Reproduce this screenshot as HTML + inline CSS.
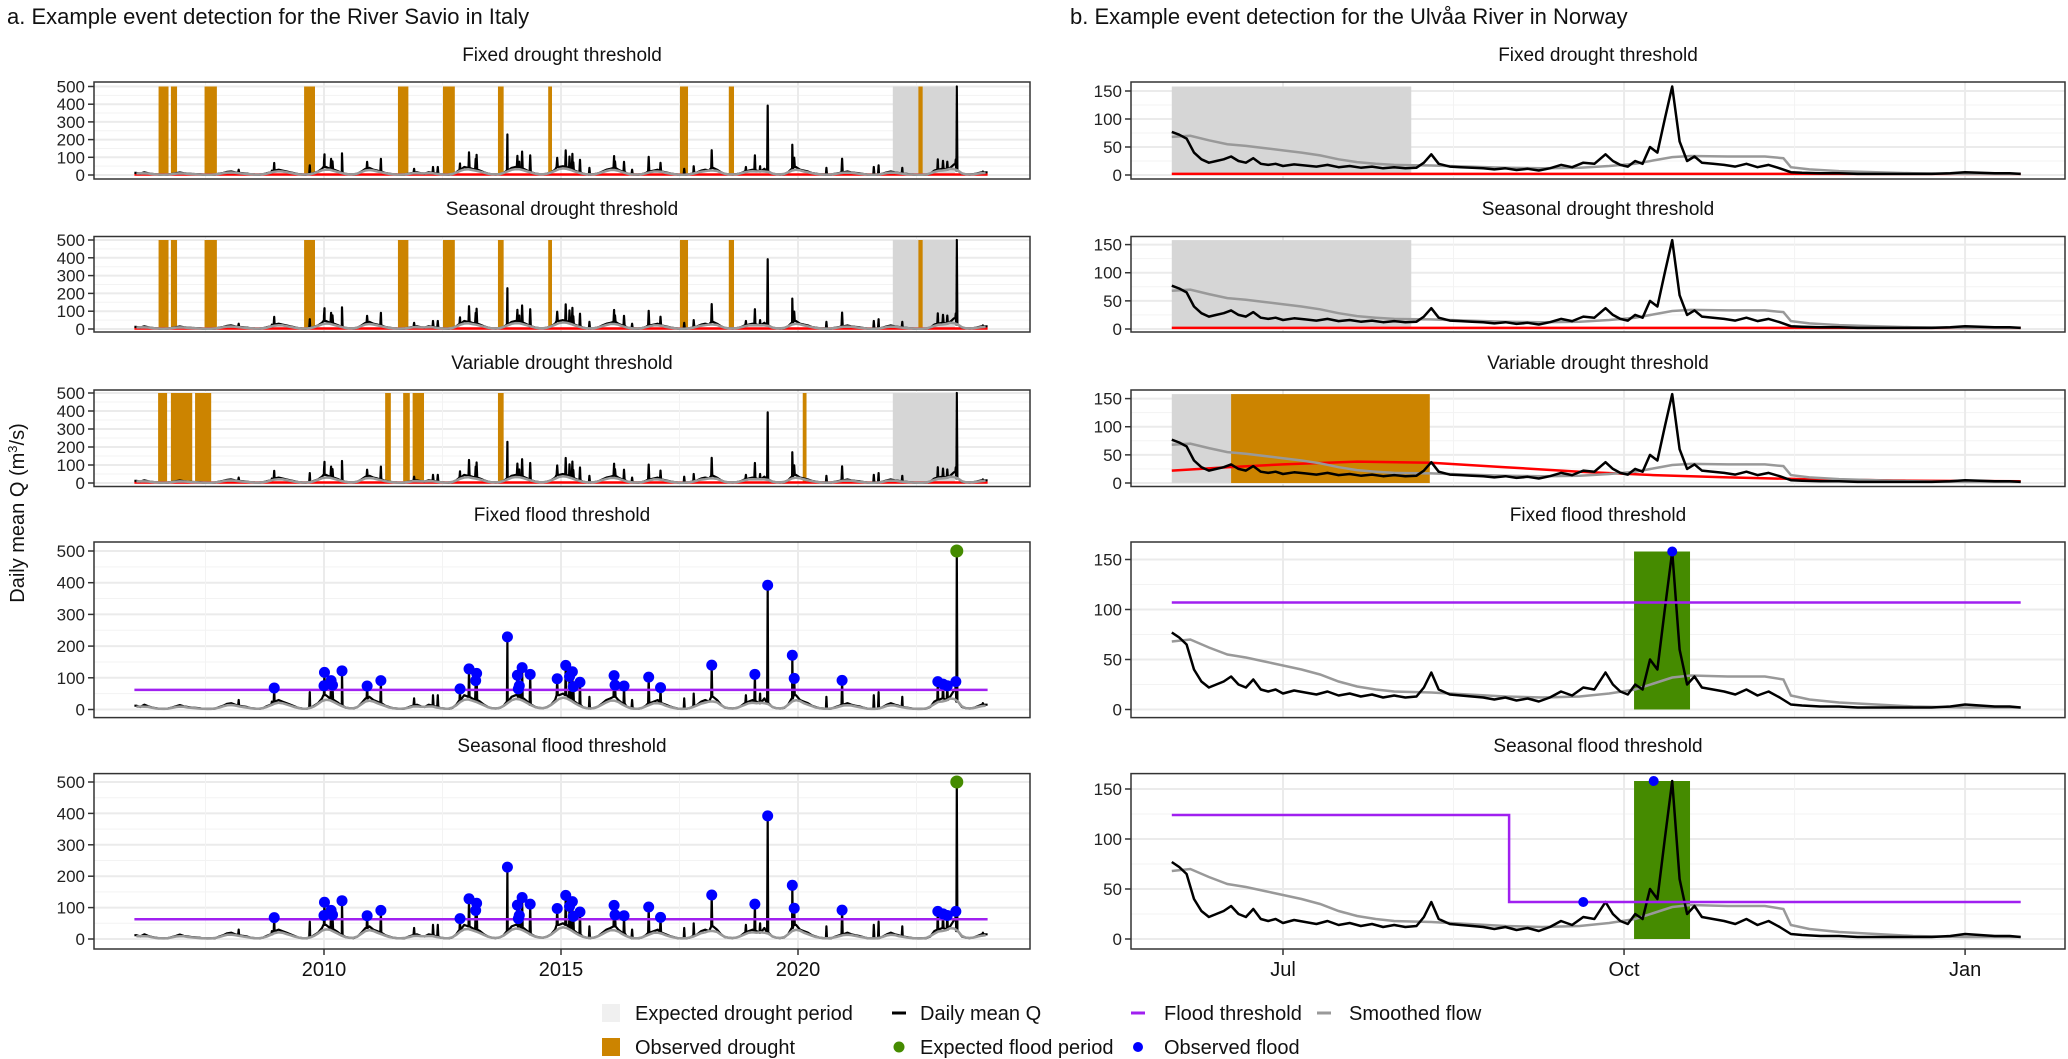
<!DOCTYPE html>
<html><head><meta charset="utf-8"><style>
body{margin:0;background:#fff;}
svg{display:block;}
.tk{font-family:"Liberation Sans",sans-serif;font-size:17px;fill:#222;}
.ttl{font-family:"Liberation Sans",sans-serif;font-size:19px;fill:#111;}
.main{font-family:"Liberation Sans",sans-serif;font-size:22px;fill:#111;}
.nar{font-family:"Liberation Sans Narrow","Liberation Sans",sans-serif;font-size:20px;fill:#111;}
</style></head><body>
<svg id="c" width="2068" height="1059" viewBox="0 0 2068 1059" xmlns="http://www.w3.org/2000/svg">
<text class="main" x="7" y="24">a. Example event detection for the River Savio in Italy</text>
<text class="main" x="1070" y="24">b. Example event detection for the Ulvåa River in Norway</text>
<text class="nar" transform="translate(24,513) rotate(-90)" text-anchor="middle">Daily mean Q (m<tspan dy="-7" font-size="13">3</tspan><tspan dy="7">/s)</tspan></text>
<g id="plots"></g>
<g id="legend">
<rect x="602" y="1004" width="18" height="18" fill="#f0f0f0"/>
<text class="nar" x="635" y="1020">Expected drought period</text>
<rect x="602" y="1038" width="18" height="18" fill="#cc8400"/>
<text class="nar" x="635" y="1054">Observed drought</text>
<line x1="892" y1="1013" x2="906" y2="1013" stroke="#000" stroke-width="3"/>
<text class="nar" x="920" y="1020">Daily mean Q</text>
<circle cx="899" cy="1047" r="5.5" fill="#458b00"/>
<text class="nar" x="920" y="1054">Expected flood period</text>
<line x1="1131" y1="1013" x2="1145" y2="1013" stroke="#a020f0" stroke-width="3"/>
<text class="nar" x="1164" y="1020">Flood threshold</text>
<circle cx="1138" cy="1047" r="5" fill="#0000ff"/>
<text class="nar" x="1164" y="1054">Observed flood</text>
<line x1="1317" y1="1013" x2="1331" y2="1013" stroke="#999" stroke-width="3"/>
<text class="nar" x="1349" y="1020">Smoothed flow</text>
</g>
</svg>
<script>
// ---- Left (Savio) data ----
const savioBase = [
12,8,15,10,6,4,2,2,3,6,10,14,
10,8,6,5,4,2,2,2,3,8,12,18,
20,15,12,10,8,4,3,2,4,10,15,25,
30,25,20,15,10,5,3,2,5,12,20,35,
45,35,30,22,12,6,4,3,8,20,35,40,
30,25,20,12,8,4,3,2,3,8,12,15,
10,8,15,12,8,4,3,2,5,15,30,45,
40,35,30,25,15,8,4,3,5,12,25,40,
45,40,35,25,15,8,5,4,8,15,30,45,
50,45,35,25,15,8,4,3,5,10,20,30,
35,40,30,20,10,5,3,2,5,12,20,25,
30,20,15,10,6,3,2,2,4,10,15,25,
30,25,40,30,15,6,4,3,5,10,20,25,
30,25,20,35,20,8,4,3,5,15,35,45,
30,25,20,12,8,4,3,2,3,8,12,15,
20,15,12,10,6,3,2,2,3,8,15,20,
15,12,8,6,4,2,2,2,3,8,25,30,
35,30,40,60,25,8,4,3,5,10,15,15];
const floodYears = [2008.95,2010.0,2010.01,2010.15,2010.18,2010.38,2010.91,2011.2,2012.87,2013.06,2013.2,2013.22,2013.87,2014.08,2014.1,2014.12,2014.18,2014.35,2014.92,2015.1,2015.18,2015.24,2015.26,2015.4,2016.12,2016.14,2016.33,2016.85,2017.1,2018.18,2019.09,2019.36,2019.88,2019.92,2020.93,2022.95,2023.06,2023.15,2023.33];
const floodPeaks = [68,75,117,91,77,122,74,91,65,128,91,114,229,108,65,75,132,111,97,139,104,119,72,86,107,77,74,102,69,140,111,392,171,98,92,88,80,75,88];
const minorYears = [2008.2,2008.9,2009.7,2011.9,2012.3,2012.4,2015.6,2016.5,2017.6,2017.8,2018.9,2019.2,2020.6,2021.6,2021.7,2022.2,2023.9];
const minorPeaks = [30,25,55,35,45,45,40,30,35,50,45,50,40,45,55,40,20];
const expectedFloodYear = [2023.35];
const expectedFloodPeak = [500];
const fixedDroughtStart = [2006.51,2006.77,2007.48,2009.58,2011.56,2012.51,2013.67,2014.73,2017.51,2018.54,2022.54];
const fixedDroughtEnd   = [2006.72,2006.90,2007.74,2009.81,2011.78,2012.76,2013.79,2014.81,2017.68,2018.65,2022.63];
const varDroughtStart = [2006.5,2006.77,2007.28,2011.29,2011.67,2011.87,2013.67,2020.1];
const varDroughtEnd   = [2006.69,2007.22,2007.62,2011.41,2011.81,2012.11,2013.79,2020.18];
const expDroughtL = [2022.0,2023.31];
const leftFloodThreshold = [62,63];
const leftYearTicks = [2010,2015,2020];
// ---- Right (Ulvaa) data: day index from 1 June ----
const ulvDays = [0,2,4,6,8,10,12,14,16,18,20,22,24,26,28,30,33,36,39,42,45,48,51,54,57,60,63,66,68,70,72,75,78,81,84,87,90,93,96,99,102,105,108,111,114,117,119,121,123,125,127,129,131,133,135,137,139,141,143,146,149,152,155,158,161,164,167,170,175,180,185,190,195,200,205,210,214,218,222,226,229];
const ulvFlow = [77,72,65,40,28,22,25,28,33,25,22,30,20,18,20,16,19,17,15,18,14,16,13,15,12,14,12,13,22,37,20,15,14,13,12,10,12,9,11,8,12,18,14,22,20,37,25,18,15,25,20,50,40,100,158,60,25,33,22,20,18,15,20,14,18,12,5,4,3,3,2,2,2,2,2,3,5,4,3,3,2];
const smDays = [0,5,10,15,20,25,30,35,40,45,50,55,60,70,80,90,100,110,118,125,130,135,140,150,160,165,167,172,180,190,200,214,229];
const smFlow = [68,70,62,55,52,48,44,40,35,28,23,20,18,17,15,13,12,13,16,20,26,32,34,33,33,30,14,10,7,5,3,2,2];
const varThrDays = [0,15,30,50,70,90,110,130,150,170,200,229];
const varThrVal = [22,28,33,38,36,28,20,14,10,7,4,3];
const fixedDroughtThrR = [2];
const expDroughtR = [0,64.6];
const obsDroughtR = [16,69.6];
const expFloodR = [124.7,139.8];
const fixedFloodThrR = [107];
const seasFloodDays = [0,91,91,229];
const seasFloodVal = [124,124,37,37];
const obsFloodRowFixDay = [135], obsFloodRowFixVal = [158];
const obsFloodRowSeasDay = [111,130], obsFloodRowSeasVal = [37,158];
const rightTickDays = [30,122,214];
const rightTickLabels = ["Jul","Oct","Jan"];

const NS="http://www.w3.org/2000/svg";
const root=document.getElementById('plots');
function mk(tag,attrs,parent){const e=document.createElementNS(NS,tag);for(const k in attrs)e.setAttribute(k,attrs[k]);(parent||root).appendChild(e);return e;}

const rows=[
 {top:82,bot:179,zL:175,kL:88.5/500,zR:175,kR:84/150,title:"Fixed drought threshold",ty:61},
 {top:236.5,bot:332,zL:329,kL:89/500,zR:329,kR:84.4/150,title:"Seasonal drought threshold",ty:215},
 {top:390,bot:486.5,zL:483,kL:90/500,zR:483,kR:84.4/150,title:"Variable drought threshold",ty:369},
 {top:542,bot:717.6,zL:709.5,kL:158.5/500,zR:709.5,kR:150/150,title:"Fixed flood threshold",ty:521},
 {top:773.6,bot:949,zL:939,kL:157/500,zR:939,kR:150/150,title:"Seasonal flood threshold",ty:752}];
const LX0=94,LX1=1030,RX0=1131,RX1=2065;
const xL=y=>324+(y-2010)*47.4;
const xR=d=>1283+(d-30)*3.707;

// build left black series
function leftSeries(){
  const pts=[];
  const baseAt=t=>{const i=Math.min(savioBase.length-1,Math.max(0,Math.floor((t-2006)*12)));return savioBase[i];};
  savioBase.forEach((v,i)=>pts.push([2006+(i+0.5)/12,v]));
  pts.unshift([2006.0,savioBase[0]]);pts.push([2024.0,savioBase[savioBase.length-1]]);
  const sp=[];
  floodYears.forEach((t,i)=>sp.push([t,floodPeaks[i]]));
  minorYears.forEach((t,i)=>sp.push([t,minorPeaks[i]]));
  expectedFloodYear.forEach((t,i)=>sp.push([t,expectedFloodPeak[i]]));
  sp.forEach(([t,v])=>{const b=baseAt(t);pts.push([t-0.012,b]);pts.push([t,v]);pts.push([t+0.012,b]);});
  pts.sort((a,b)=>a[0]-b[0]);
  return pts;
}
const leftPts=leftSeries();
const leftSmooth=savioBase.map((v,i)=>{const a=savioBase[Math.max(0,i-1)],c=savioBase[Math.min(savioBase.length-1,i+1)];return [2006+(i+0.5)/12,(a+v+c)/3*0.8];});

function poly(pts,xf,yf){return pts.map(p=>xf(p[0]).toFixed(1)+","+yf(p[1]).toFixed(1)).join(" ");}

rows.forEach((r,ri)=>{
 ['L','R'].forEach(side=>{
  const x0=side=='L'?LX0:RX0,x1=side=='L'?LX1:RX1;
  const z=side=='L'?r.zL:r.zR,k=side=='L'?r.kL:r.kR;
  const yf=v=>z-v*k;
  const xf=side=='L'?xL:xR;
  const g=mk('g',{});
  
  
  const cid=`cl${side}${ri}`;
  const cp=mk('clipPath',{id:cid},g);mk('rect',{x:x0,y:r.top,width:x1-x0,height:r.bot-r.top},cp);
  const t=mk('text',{class:'ttl',x:(x0+x1)/2,y:r.ty,'text-anchor':'middle'},g);t.textContent=r.title;
  
  
  const pg=mk('g',{'clip-path':`url(#${cid})`},g);
  // grid
  const maxV=side=='L'?500:150, step=side=='L'?100:50;
  for(let v=step/2;v<=maxV+step;v+=step) mk('line',{x1:x0,x2:x1,y1:yf(v),y2:yf(v),stroke:'#f3f3f3','stroke-width':1},pg);
  for(let v=0;v<=maxV;v+=step) mk('line',{x1:x0,x2:x1,y1:yf(v),y2:yf(v),stroke:'#ebebeb','stroke-width':2},pg);
  if(side=='L'){[2007.5,2012.5,2017.5,2022.5].forEach(y=>mk('line',{x1:xL(y),x2:xL(y),y1:r.top,y2:r.bot,stroke:'#f3f3f3','stroke-width':1},pg));
    leftYearTicks.forEach(y=>mk('line',{x1:xL(y),x2:xL(y),y1:r.top,y2:r.bot,stroke:'#ebebeb','stroke-width':2},pg));}
  else{[-16,76,168].forEach(d=>mk('line',{x1:xR(d),x2:xR(d),y1:r.top,y2:r.bot,stroke:'#f3f3f3','stroke-width':1},pg));
    rightTickDays.forEach(d=>mk('line',{x1:xR(d),x2:xR(d),y1:r.top,y2:r.bot,stroke:'#ebebeb','stroke-width':2},pg));}
  const top=side=='L'?500:158;
  const band=(a,b,col,name)=>{const e=mk('rect',{x:xf(a),y:yf(top),width:xf(b)-xf(a),height:yf(0)-yf(top),fill:col},pg);};
  if(side=='L'){
    if(ri<3){
      band(expDroughtL[0],expDroughtL[1],'#d6d6d6','expected-drought-period');
      const S=ri<2?fixedDroughtStart:varDroughtStart,E=ri<2?fixedDroughtEnd:varDroughtEnd;
      S.forEach((s,i)=>band(s,E[i],'#cc8400','observed-drought-bar'));
      mk('line',{x1:xL(2006),x2:xL(2024),y1:yf(3),y2:yf(3),stroke:'#ff0000','stroke-width':2.5},pg);
    }
    mk('polyline',{points:poly(leftPts,xL,yf),fill:'none',stroke:'#000','stroke-width':2.2,'stroke-linejoin':'round'},pg);
    mk('polyline',{points:poly(leftSmooth,xL,yf),fill:'none',stroke:'#999','stroke-width':2.5},pg);
    if(ri>=3){
      const th=leftFloodThreshold[ri-3];
      const l=mk('line',{x1:xL(2006),x2:xL(2024),y1:yf(th),y2:yf(th),stroke:'#a020f0','stroke-width':2.5},pg);
      
      
      floodYears.forEach((t,i)=>{const c=mk('circle',{cx:xL(t),cy:yf(floodPeaks[i]),r:5.5,fill:'#0000ff'},g);
        
        });
      expectedFloodYear.forEach((t,i)=>{const c=mk('circle',{cx:xL(t),cy:yf(expectedFloodPeak[i]),r:6.5,fill:'#458b00'},g);
        
        });
    }
  } else {
    if(ri<2){band(expDroughtR[0],expDroughtR[1],'#d6d6d6','expected-drought-period');}
    if(ri==2){band(expDroughtR[0],expDroughtR[1],'#d6d6d6','expected-drought-period');band(obsDroughtR[0],obsDroughtR[1],'#cc8400','observed-drought-bar');}
    if(ri>=3){band(expFloodR[0],expFloodR[1],'#458b00','expected-flood-period');}
    if(ri<2) mk('line',{x1:xR(0),x2:xR(229),y1:yf(fixedDroughtThrR[0]),y2:yf(fixedDroughtThrR[0]),stroke:'#ff0000','stroke-width':2.5},pg);
    if(ri==2) mk('polyline',{points:poly(varThrDays.map((d,i)=>[d,varThrVal[i]]),xR,yf),fill:'none',stroke:'#ff0000','stroke-width':2.5},pg);
    mk('polyline',{points:poly(smDays.map((d,i)=>[d,smFlow[i]]),xR,yf),fill:'none',stroke:'#999','stroke-width':2.5},pg);
    mk('polyline',{points:poly(ulvDays.map((d,i)=>[d,ulvFlow[i]]),xR,yf),fill:'none',stroke:'#000','stroke-width':2.5,'stroke-linejoin':'round'},pg);
    if(ri==3){mk('line',{x1:xR(0),x2:xR(229),y1:yf(fixedFloodThrR[0]),y2:yf(fixedFloodThrR[0]),stroke:'#a020f0','stroke-width':2.5},pg);
      obsFloodRowFixDay.forEach((d,i)=>{const c=mk('circle',{cx:xR(d),cy:yf(obsFloodRowFixVal[i]),r:5,fill:'#0000ff'},g);
        
        });}
    if(ri==4){mk('polyline',{points:poly(seasFloodDays.map((d,i)=>[d,seasFloodVal[i]]),xR,yf),fill:'none',stroke:'#a020f0','stroke-width':2.5},pg);
      obsFloodRowSeasDay.forEach((d,i)=>{const c=mk('circle',{cx:xR(d),cy:yf(obsFloodRowSeasVal[i]),r:5,fill:'#0000ff'},g);
        
        });}
  }
  // border
  mk('rect',{x:x0,y:r.top,width:x1-x0,height:r.bot-r.top,fill:'none',stroke:'#333','stroke-width':1.5},g);
  // y ticks
  for(let v=0;v<=maxV;v+=step){
    mk('line',{x1:x0-6,x2:x0,y1:yf(v),y2:yf(v),stroke:'#333','stroke-width':1.5},g);
    const tt=mk('text',{class:'tk',x:x0-9,y:yf(v)+6,'text-anchor':'end'},g);tt.textContent=v;
    
    
  }
  // x ticks on bottom row
  if(ri==4){
    const tv=side=='L'?leftYearTicks:rightTickDays;
    tv.forEach((v,i)=>{mk('line',{x1:xf(v),x2:xf(v),y1:r.bot,y2:r.bot+6,stroke:'#333','stroke-width':1.5},g);
      const tt=mk('text',{class:'nar',x:xf(v),y:976,'text-anchor':'middle'},g);
      tt.textContent=side=='L'?v:rightTickLabels[i];
      
      });
  }
 });
});
</script>
</body></html>
